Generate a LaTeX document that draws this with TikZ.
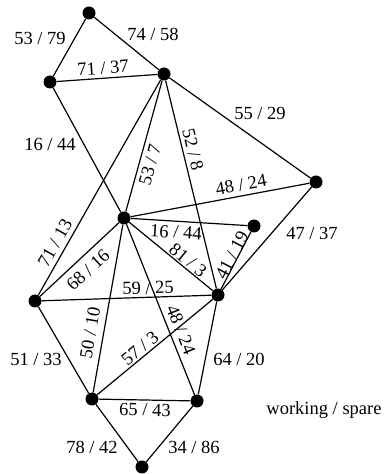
\documentclass[tikz,border=0pt]{standalone}
\usepackage{fontspec}
\setmainfont{Liberation Serif}
\begin{document}
\begin{tikzpicture}[x=1pt,y=1pt,
  dot/.style={circle,fill=black,inner sep=0pt,minimum size=13pt},
  link/.style={line width=1.2pt},
  lbl/.style={font=\fontsize{18.5}{20}\selectfont,inner sep=0pt}]
\useasboundingbox (0,0) rectangle (384,474);
% vertices
\node[dot] (A) at (89,461) {};
\node[dot] (B) at (50,392) {};
\node[dot] (C) at (164,400) {};
\node[dot] (D) at (316,292) {};
\node[dot] (E) at (124,256) {};
\node[dot] (F) at (254,248) {};
\node[dot] (G) at (218,179) {};
\node[dot] (H) at (35,173) {};
\node[dot] (I) at (92,75) {};
\node[dot] (J) at (197,73) {};
\node[dot] (K) at (142,7) {};
% edges
\draw[link] (A) -- (B);
\draw[link] (A) -- (C);
\draw[link] (B) -- (C);
\draw[link] (B) -- (E);
\draw[link] (C) -- (D);
\draw[link] (C) -- (E);
\draw[link] (C) -- (G);
\draw[link] (C) -- (H);
\draw[link] (D) -- (E);
\draw[link] (D) -- (G);
\draw[link] (E) -- (F);
\draw[link] (E) -- (G);
\draw[link] (E) -- (H);
\draw[link] (E) -- (I);
\draw[link] (E) -- (J);
\draw[link] (F) -- (G);
\draw[link] (G) -- (H);
\draw[link] (G) -- (I);
\draw[link] (G) -- (J);
\draw[link] (H) -- (I);
\draw[link] (I) -- (J);
\draw[link] (I) -- (K);
\draw[link] (J) -- (K);
% labels
\node[lbl] (lAB) at (40,436) {53 / 79};
\node[lbl] (lAC) at (153,440) {74 / 58};
\node[lbl,rotate=4] (lBC) at (103,406) {71 / 37};
\node[lbl] (lBE) at (50,330) {16 / 44};
\node[lbl] (lCD) at (260,361) {55 / 29};
\node[lbl,rotate=74.5] (lCE) at (150,309) {53 / 7};
\node[lbl,rotate=-76.3] (lCG) at (193,324) {52 / 8};
\node[lbl,rotate=10.6] (lED) at (241,289) {48 / 24};
\node[lbl,rotate=-3.5] (lEF) at (176,242) {16 / 44};
\node[lbl] (lDG) at (312,241) {47 / 37};
\node[lbl,rotate=60.4] (lCH) at (55,231) {71 / 13};
\node[lbl,rotate=43] (lEH) at (88,204) {68 / 16};
\node[lbl,rotate=-39.3] (lEG) at (188,214) {81 / 3};
\node[lbl,rotate=62.4] (lFG) at (232,219) {41 / 19};
\node[lbl,rotate=1.9] (lHG) at (148,186) {59 / 25};
\node[lbl,rotate=80] (lEI) at (90,141) {50 / 10};
\node[lbl,rotate=39.5] (lIG) at (140,126) {57 / 3};
\node[lbl,rotate=-68.2] (lEJ) at (181,144) {48 / 24};
\node[lbl] (lHI) at (36,115) {51 / 33};
\node[lbl] (lGJ) at (239,115) {64 / 20};
\node[lbl,rotate=-1] (lIJ) at (145,64) {65 / 43};
\node[lbl] (lIK) at (92,27) {78 / 42};
\node[lbl] (lJK) at (194,27) {34 / 86};
\node[lbl] (legend) at (324,64) {working / spare};
\end{tikzpicture}
\end{document}
